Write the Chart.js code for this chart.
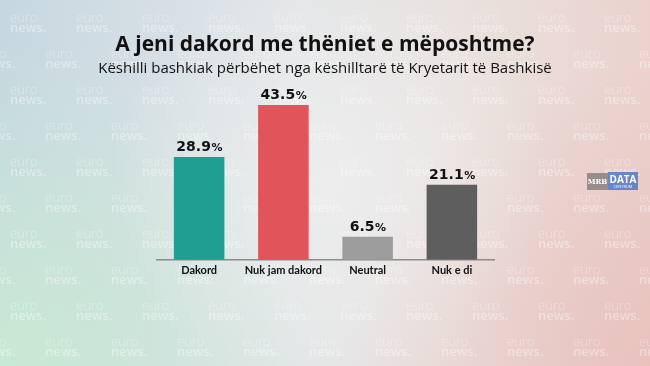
<!DOCTYPE html>
<html>
<head>
<meta charset="utf-8">
<script src="https://cdn.jsdelivr.net/npm/chart.js@4"></script>
<style>
html,body{margin:0;padding:0;width:650px;height:366px;overflow:hidden;}
#wrap{position:relative;width:650px;height:366px;}
</style>
</head>
<body>
<div id="wrap"><canvas id="c" width="650" height="366"></canvas></div>
<script>
const titleText = "A jeni dakord me thëniet e mëposhtme?";
const subtitleText = "Këshilli bashkiak përbëhet nga këshilltarë të Kryetarit të Bashkisë";
const categories = ["Dakord", "Nuk jam dakord", "Neutral", "Nuk e di"];
const values = [28.9, 43.5, 6.5, 21.1];
const barColors = ["#1f9e92", "#e0545a", "#9d9d9d", "#5e5e5e"];

const bgPlugin = {
  id: 'bg',
  beforeDraw(chart) {
    const ctx = chart.ctx, W = chart.width, H = chart.height;
    ctx.save();
    let g = ctx.createLinearGradient(0, 0, W, 0);
    g.addColorStop(0, '#c6d7e1');
    g.addColorStop(0.45, '#e3e6e8');
    g.addColorStop(0.7, '#e9e2df');
    g.addColorStop(1, '#ebd2cd');
    ctx.fillStyle = g;
    ctx.fillRect(0, 0, W, H);
    let rg = ctx.createRadialGradient(0, H, 10, 0, H, 330);
    rg.addColorStop(0, 'rgba(200,235,210,0.9)');
    rg.addColorStop(1, 'rgba(200,235,210,0)');
    ctx.fillStyle = rg;
    ctx.fillRect(0, 0, W, H);
    let rg2 = ctx.createRadialGradient(W, H, 10, W, H, 300);
    rg2.addColorStop(0, 'rgba(232,190,186,0.8)');
    rg2.addColorStop(1, 'rgba(232,190,186,0)');
    ctx.fillStyle = rg2;
    ctx.fillRect(0, 0, W, H);
    let rg3 = ctx.createRadialGradient(330, 180, 10, 330, 180, 220);
    rg3.addColorStop(0, 'rgba(240,240,240,0.7)');
    rg3.addColorStop(1, 'rgba(240,240,240,0)');
    ctx.fillStyle = rg3;
    ctx.fillRect(0, 0, W, H);
    // watermark
    ctx.fillStyle = 'rgba(255,255,255,0.38)';
    ctx.textBaseline = 'alphabetic';
    ctx.textAlign = 'left';
    let row = 0;
    for (let y = 22; y < H + 20; y += 36, row++) {
      const off = (row % 2) ? 35 : 0;
      for (let x = 10 + off - 66; x < W; x += 66) {
        ctx.font = '300 13px "Open Sans"';
        ctx.fillText('euro', x, y);
        ctx.font = '600 13px "Open Sans"';
        ctx.fillText('news.', x, y + 10);
      }
    }
    ctx.restore();
  },
  afterDraw(chart) {
    const ctx = chart.ctx, W = chart.width;
    ctx.save();
    ctx.fillStyle = '#111';
    ctx.textAlign = 'center';
    ctx.textBaseline = 'alphabetic';
    ctx.font = '700 21px "Open Sans"';
    ctx.fillText(titleText, W / 2, 51);
    ctx.font = '400 15px "Open Sans"';
    ctx.fillText(subtitleText, W / 2, 73);
    // logo
    ctx.fillStyle = 'rgba(120,120,120,0.75)';
    ctx.fillRect(587, 173, 21, 17);
    ctx.fillStyle = 'rgba(80,120,200,0.85)';
    ctx.fillRect(608, 172, 30, 18);
    ctx.fillStyle = '#fff';
    ctx.font = '700 7px "DejaVu Serif"';
    ctx.fillText('MRB', 597.5, 184);
    ctx.font = '700 10px "Open Sans"';
    ctx.fillText('DATA', 623, 183);
    ctx.font = '400 4px "Open Sans"';
    ctx.fillText('CENTRUM', 623, 188);
    // value labels
    const meta = chart.getDatasetMeta(0);
    meta.data.forEach((bar, i) => {
      const num = values[i].toFixed(1);
      ctx.font = 'bold 14px "DejaVu Sans"';
      const w1 = ctx.measureText(num).width;
      ctx.font = 'bold 11px "DejaVu Sans"';
      const w2 = ctx.measureText('%').width;
      const start = bar.x - (w1 + w2) / 2;
      ctx.textAlign = 'left';
      ctx.fillStyle = '#111';
      ctx.font = 'bold 14px "DejaVu Sans"';
      ctx.fillText(num, start, bar.y - 6);
      ctx.font = 'bold 11px "DejaVu Sans"';
      ctx.fillText('%', start + w1 + 0.5, bar.y - 6);
    });
    ctx.restore();
  }
};

new Chart(document.getElementById('c'), {
  type: 'bar',
  data: {
    labels: categories,
    datasets: [{
      data: values,
      backgroundColor: barColors,
      borderWidth: 0,
      barPercentage: 0.6,
      categoryPercentage: 1.0
    }]
  },
  options: {
    responsive: false,
    animation: false,
    devicePixelRatio: 1,
    layout: { padding: { left: 157, right: 156, top: 82, bottom: 85 } },
    plugins: { legend: { display: false }, tooltip: { enabled: false }, title: { display: false } },
    scales: {
      x: {
        grid: { display: false, drawTicks: false },
        border: { display: true, color: '#8c8c8c', width: 1.5 },
        ticks: { color: '#111', font: { family: 'Lato', weight: 'bold', size: 11 }, padding: 4, maxRotation: 0 }
      },
      y: { display: false, min: 0, max: 50 }
    }
  },
  plugins: [bgPlugin]
});
</script>
</body>
</html>
